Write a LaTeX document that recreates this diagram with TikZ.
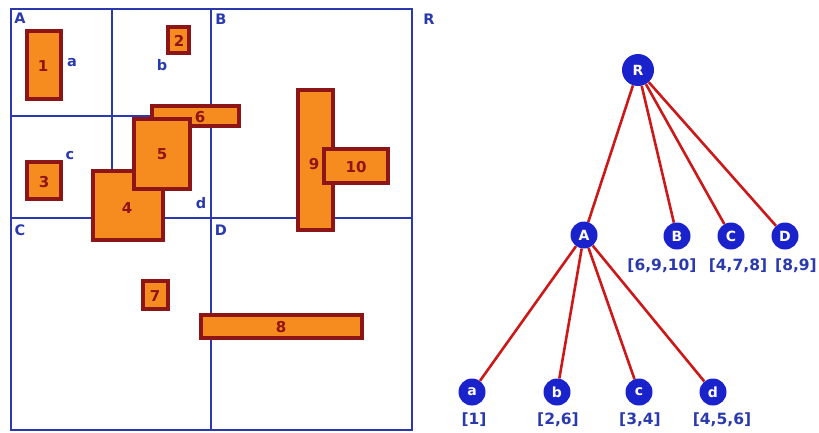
\documentclass[tikz,border=0pt]{standalone}
\usepackage{fontspec}
\setmainfont{DejaVu Sans}
\begin{document}
\begin{tikzpicture}[x=1pt,y=-1pt,
  gridline/.style={draw=gridblue,line width=2.3pt},
  obj/.style={draw=objred,fill=objfill,line width=3.3pt},
  objlbl/.style={text=objred,font=\bfseries\fontsize{15}{15}\selectfont},
  qlbl/.style={text=gridblue,font=\bfseries\fontsize{14.5}{14.5}\selectfont},
  tnode/.style={circle,fill=nodeblue,text=white,font=\bfseries\fontsize{14}{14}\selectfont,inner sep=0pt},
  big/.style={tnode,minimum size=32pt},
  small/.style={tnode,minimum size=27pt},
  edge/.style={draw=edgered,line width=2.6pt},
  tlbl/.style={text=gridblue,font=\bfseries\fontsize{15.5}{15.5}\selectfont}]
\definecolor{gridblue}{HTML}{2A3AAE}
\definecolor{objred}{HTML}{8E1515}
\definecolor{objfill}{HTML}{F68B1F}
\definecolor{nodeblue}{HTML}{1A22CC}
\definecolor{edgered}{HTML}{CC1818}
\useasboundingbox (0,0) rectangle (819,432);
% grid
\draw[gridline] (11,9) rectangle (412,430);
\draw[gridline] (211,9) -- (211,430);
\draw[gridline] (11,218) -- (412,218);
\draw[gridline] (112,9) -- (112,218);
\draw[gridline] (11,116) -- (211,116);
% quadrant labels
\node[qlbl] (lA) at (20,18) {A};
\node[qlbl] (lB) at (221,19) {B};
\node[qlbl] (lC) at (20,230) {C};
\node[qlbl] (lD) at (221,230) {D};
\node[qlbl] (lR) at (429,19) {R};
\node[qlbl] (la) at (72,63) {a};
\node[qlbl] (lb) at (162,65) {b};
\node[qlbl] (lc) at (70,156) {c};
\node[qlbl] (ld) at (201,203) {d};
% objects
\draw[obj] (27,31) rectangle (61,99);
\node[objlbl] (o1) at (43,66) {1};
\draw[obj] (168,27) rectangle (189,53);
\node[objlbl] (o2) at (179,41) {2};
\draw[obj] (27,162) rectangle (61,199);
\node[objlbl] (o3) at (44,182) {3};
\draw[obj] (152,106) rectangle (239,126);
\node[objlbl] (o6) at (200,117) {6};
\draw[obj] (93,171) rectangle (163,240);
\node[objlbl] (o4) at (127,208) {4};
\draw[obj] (134,119) rectangle (190,189);
\node[objlbl] (o5) at (162,154) {5};
\draw[obj] (143,281) rectangle (168,309);
\node[objlbl] (o7) at (155,296) {7};
\draw[obj] (201,315) rectangle (362,338);
\node[objlbl] (o8) at (281,327) {8};
\draw[obj] (298,90) rectangle (333,230);
\node[objlbl] (o9) at (314,164) {9};
\draw[obj] (324,149) rectangle (388,183);
\node[objlbl] (o10) at (356,167) {10};
% tree
\node[big] (R) at (638,70) {R};
\node[small] (A) at (584,235) {A};
\node[small] (B) at (677,236) {B};
\node[small] (C) at (731,236) {C};
\node[small] (D) at (785,236) {D};
\node[small] (a) at (472,392) {a};
\node[small] (b) at (557,392) {b};
\node[small] (c) at (639,392) {c};
\node[small] (d) at (713,392) {d};
\foreach \n in {A,B,C,D} \draw[edge] (R) -- (\n);
\foreach \n in {a,b,c,d} \draw[edge] (A) -- (\n);
\node[tlbl] (tB) at (662,266) {[6,9,10]};
\node[tlbl] (tC) at (738,266) {[4,7,8]};
\node[tlbl] (tD) at (796,266) {[8,9]};
\node[tlbl] (ta) at (474,420) {[1]};
\node[tlbl] (tb) at (558,420) {[2,6]};
\node[tlbl] (tc) at (640,420) {[3,4]};
\node[tlbl] (td) at (722,420) {[4,5,6]};
\end{tikzpicture}
\end{document}
